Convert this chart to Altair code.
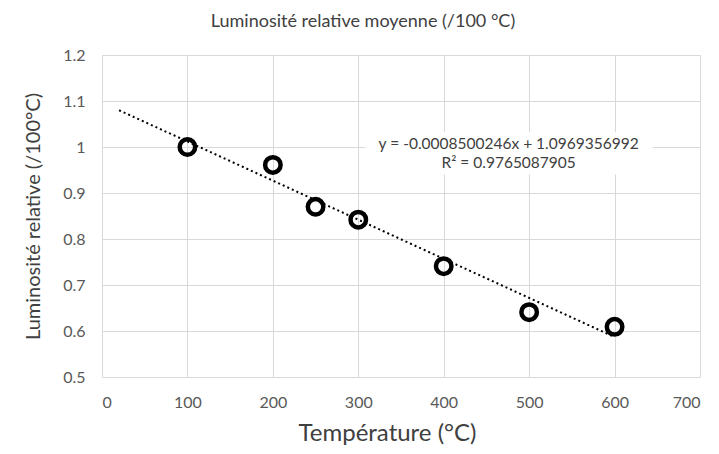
import altair as alt
import pandas as pd

temps = [100, 200, 250, 300, 400, 500, 600]
lum = [1.0, 0.961, 0.870, 0.842, 0.741, 0.641, 0.609]

slope = -0.0008500246
intercept = 1.0969356992
trend_x = [20, 600]
trend_y = [slope * v + intercept for v in trend_x]

eq_lines = ["y = -0.0008500246x + 1.0969356992", "R² = 0.9765087905"]
eq_x = [476, 476]
eq_y = [1.007, 0.966]
box = {"x": 308, "x2": 645, "y": 1.032, "y2": 0.940}

FONT = "Lato"
GRAY = "#595959"

pts = pd.DataFrame({"t": temps, "l": lum})
trend = pd.DataFrame({"t": trend_x, "l": trend_y})
eq = pd.DataFrame({"t": eq_x, "l": eq_y, "txt": eq_lines})
boxdf = pd.DataFrame([box])

xs = alt.Scale(domain=[0, 700], nice=False, zero=False)
ys = alt.Scale(domain=[0.5, 1.2], nice=False, zero=False)

xax = alt.Axis(values=list(range(0, 701, 100)), title="Température (°C)", grid=True,
               gridColor="#d9d9d9", gridWidth=1, domain=False, ticks=False,
               labelFont=FONT, labelFontSize=16, labelColor=GRAY, labelPadding=17,
               titleFont=FONT, titleFontSize=24, titleFontWeight="normal",
               titleColor="#404040", titlePadding=11, titleX=285)
yax = alt.Axis(values=[0.5, 0.6, 0.7, 0.8, 0.9, 1.0, 1.1, 1.2], title="Luminosité relative (/100°C)",
               grid=True, gridColor="#d9d9d9", gridWidth=1, domain=False, ticks=False,
               labelFont=FONT, labelFontSize=16, labelColor=GRAY, labelPadding=17,
               labelExpr="datum.value == 1 ? '1' : format(datum.value, '.1f')",
               titleFont=FONT, titleFontSize=20, titleFontWeight="normal",
               titleColor="#404040", titlePadding=19)

base_x = alt.X("t:Q", scale=xs, axis=xax)
base_y = alt.Y("l:Q", scale=ys, axis=yax)

line = alt.Chart(trend).mark_line(color="black", strokeWidth=2, strokeDash=[2, 3]).encode(
    x=base_x, y=base_y)

bg = alt.Chart(boxdf).mark_rect(color="white").encode(
    x=alt.X("x:Q", scale=xs), x2="x2:Q", y=alt.Y("y:Q", scale=ys), y2="y2:Q")

points = alt.Chart(pts).mark_point(shape="circle", filled=False, color="black",
                                   strokeWidth=4.5, size=240, opacity=1).encode(x=base_x, y=base_y)

text = alt.Chart(eq).mark_text(font=FONT, fontSize=15.5, color="#404040", align="center",
                               baseline="middle").encode(x=alt.X("t:Q", scale=xs),
                                                         y=alt.Y("l:Q", scale=ys), text="txt:N")

chart = alt.layer(line, bg, text, points).properties(
    width=598, height=322,
    title=alt.TitleParams("Luminosité relative moyenne (/100 °C)", font=FONT, fontSize=18,
                          fontWeight="normal", color="#404040", dx=-38, offset=16),
    autosize=alt.AutoSizeParams(type="none"),
    padding={"left": 94, "top": 47, "right": 11, "bottom": 76},
).configure_view(stroke=None)

chart.save("out.html", embed_options={"renderer": "svg", "actions": False})
